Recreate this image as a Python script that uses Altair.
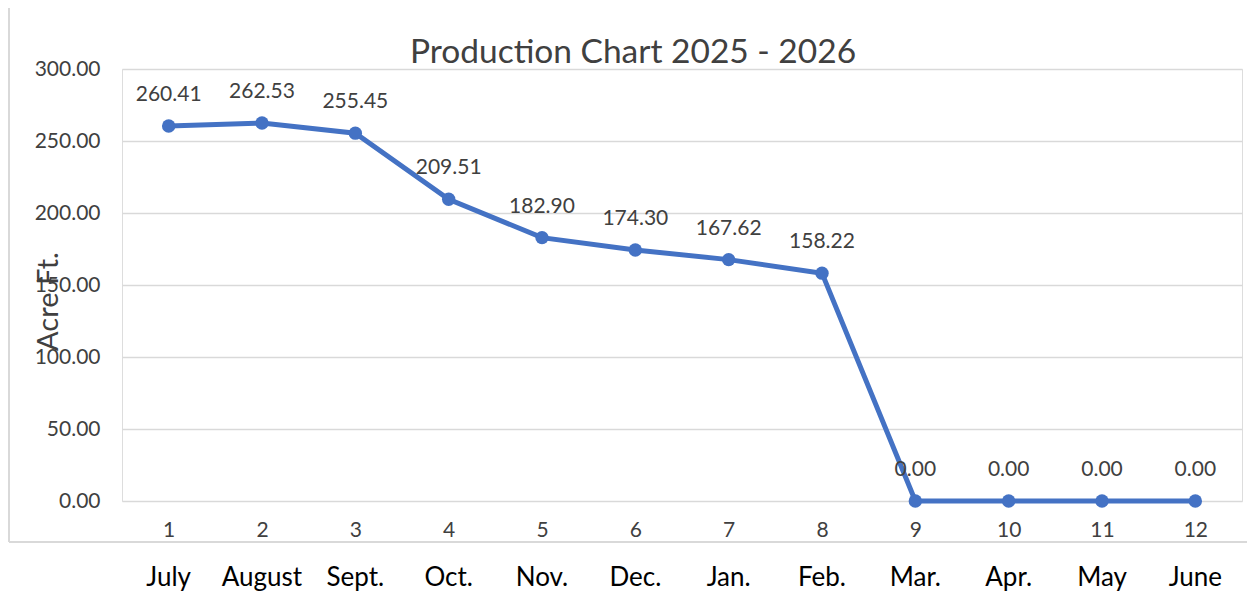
import altair as alt
import pandas as pd

# ---- data ----
month_num = [1, 2, 3, 4, 5, 6, 7, 8, 9, 10, 11, 12]
month_name = ["July", "August", "Sept.", "Oct.", "Nov.", "Dec.", "Jan.", "Feb.", "Mar.", "Apr.", "May", "June"]
acre_ft = [260.41, 262.53, 255.45, 209.51, 182.90, 174.30, 167.62, 158.22, 0.00, 0.00, 0.00, 0.00]
title_text = "Production Chart 2025 - 2026"
y_title = "Acre Ft."

df = pd.DataFrame({"n": month_num, "month": month_name, "value": acre_ft})
df["label"] = df["value"].map(lambda v: f"{v:.2f}")

FONT = "Lato"
TXT = "#404040"
BLUE = "#4472C4"
GRID = "#D9D9D9"
W, H = 1120, 432

x_enc = alt.X("n:O", sort=month_num,
              axis=alt.Axis(title=None, labelAngle=0, domain=False, ticks=False,
                            labelFontSize=21, labelFont=FONT, labelColor=TXT,
                            labelPadding=18, grid=False))
y_enc = alt.Y("value:Q", scale=alt.Scale(domain=[0, 300], nice=False),
              axis=alt.Axis(values=[0, 50, 100, 150, 200, 250, 300], format=".2f",
                            domain=False, ticks=False, grid=True, gridColor=GRID,
                            gridWidth=1.5, labelFontSize=21, labelFont=FONT,
                            labelColor=TXT, labelPadding=22,
                            title=y_title, titleFont=FONT, titleFontSize=29,
                            titleFontWeight="normal", titleColor=TXT, titleX=-74,
                            titleY=232, titleAngle=-90, titleAlign="center",
                            titleBaseline="middle"))

base = alt.Chart(df)

line = base.mark_line(color=BLUE, strokeWidth=5).encode(x=x_enc, y=y_enc)
pts = base.mark_point(filled=True, color=BLUE, size=180, opacity=1).encode(x="n:O", y="value:Q")
labels = base.mark_text(font=FONT, fontSize=21, color=TXT, dy=-31, baseline="middle").encode(
    x="n:O", y="value:Q", text="label:N")
months = base.mark_text(font=FONT, fontSize=26, color="#000000", baseline="alphabetic").encode(
    x="n:O", y=alt.value(517), text="month:N")

one = pd.DataFrame({"t": [title_text]})
title = alt.Chart(one).mark_text(font=FONT, fontSize=33.5, color=TXT, baseline="alphabetic",
                                 align="center").encode(
    x=alt.value(511), y=alt.value(-6), text="t:N")
border_l = alt.Chart(one).mark_rule(color=GRID, strokeWidth=2).encode(
    x=alt.value(-113), y=alt.value(-70), y2=alt.value(473))
border_b = alt.Chart(one).mark_rule(color=GRID, strokeWidth=2).encode(
    x=alt.value(-113), x2=alt.value(1140), y=alt.value(473))

chart = alt.layer(border_l, border_b, line, pts, labels, months, title).properties(
    width=W, height=H,
    autosize=alt.AutoSizeParams(type="none"),
    padding={"left": 114, "top": 61, "right": 5, "bottom": 92},
).configure_view(stroke=None).configure(background="white")

chart.save("out.html", embed_options={"renderer": "svg", "actions": False})
